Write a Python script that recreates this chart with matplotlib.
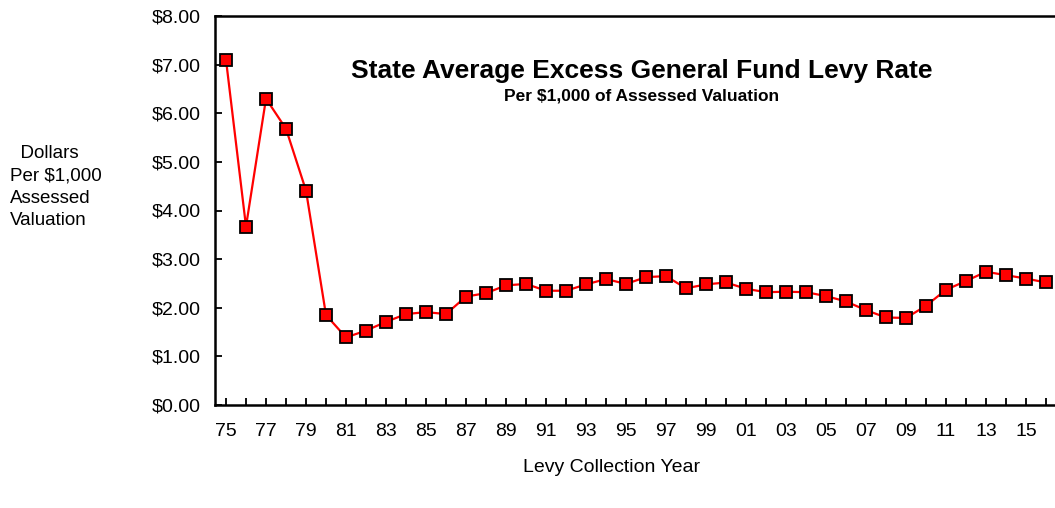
import numpy as np
import matplotlib.pyplot as plt

plt.rcParams["font.family"] = ["Liberation Sans", "DejaVu Sans"]

# data
years = [f"{y % 100:02d}" for y in range(1975, 2017)]
rates = [7.10, 3.67, 6.30, 5.68, 4.41, 1.85, 1.39, 1.53, 1.71, 1.87,
         1.91, 1.87, 2.23, 2.30, 2.46, 2.49, 2.35, 2.35, 2.48, 2.59,
         2.49, 2.63, 2.65, 2.40, 2.48, 2.52, 2.39, 2.32, 2.33, 2.32,
         2.24, 2.13, 1.95, 1.80, 1.79, 2.04, 2.37, 2.55, 2.74, 2.67,
         2.60, 2.52]
yticks = np.arange(0, 9, 1)

fig = plt.figure(figsize=(10.55, 5.08), dpi=100)
ax = fig.add_axes([215 / 1055, 1 - 405 / 508, 842 / 1055, 389 / 508])

x = np.arange(len(years))
ax.plot(x, rates, color="red", lw=1.6, marker="s", ms=9,
        mfc="red", mec="black", mew=1.3, zorder=3)

ax.set_xlim(-0.55, 41.55)
ax.set_ylim(0, 8)
ax.set_xticks(x[::2])
ax.set_xticklabels(years[::2])
ax.set_xticks(x, minor=True)
ax.set_yticks(yticks)
ax.set_yticklabels([f"${v:.2f}" for v in yticks])
ax.tick_params(axis="both", which="both", direction="in", labelsize=14,
               width=1.3, color="black")
ax.tick_params(axis="x", which="both", length=5, pad=13)
ax.tick_params(axis="y", length=5, pad=10)
for s in ax.spines.values():
    s.set_linewidth(1.8)

fig.text(642 / 1055, 1 - 71 / 508, "State Average Excess General Fund Levy Rate",
         ha="center", va="center", fontsize=19, fontweight="bold")
fig.text(642 / 1055, 1 - 96 / 508, "Per $1,000 of Assessed Valuation",
         ha="center", va="center", fontsize=12.5, fontweight="bold")
fig.text(10 / 1055, 1 - 187 / 508, "  Dollars\nPer $1,000\nAssessed\nValuation",
         ha="left", va="center", fontsize=13.5, linespacing=1.42)
fig.text(612 / 1055, 1 - 467 / 508, "Levy Collection Year",
         ha="center", va="center", fontsize=14)

fig.savefig("out.png", dpi=100)
